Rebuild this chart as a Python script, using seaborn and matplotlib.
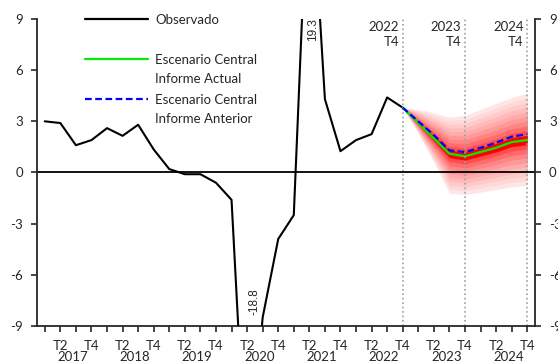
import numpy as np
import pandas as pd
import matplotlib
matplotlib.use("Agg")
import matplotlib.pyplot as plt
import seaborn as sns

years = [2017, 2018, 2019, 2020, 2021, 2022, 2023, 2024]
quarters = [f"{y} T{q}" for y in years for q in range(1, 5)]

observado = [3.0, 2.9, 1.6, 1.9, 2.6, 2.15, 2.8, 1.35,
             0.2, -0.1, -0.1, -0.6, -1.6, -18.8, -8.5, -3.9,
             -2.5, 19.3, 4.3, 1.25, 1.9, 2.25, 4.4, 3.8]

# proyecciones desde 2022 T4
actual   = [3.8, 2.9, 2.0, 1.1, 0.95, 1.2, 1.45, 1.78, 1.9]
anterior = [3.8, 3.0, 2.2, 1.3, 1.2, 1.45, 1.75, 2.1, 2.25]
fan_sup  = [3.8, 3.7, 3.5, 3.25, 3.35, 3.7, 4.05, 4.4, 4.65]
fan_inf  = [3.8, 2.3, 0.6, -1.2, -1.3, -1.15, -1.0, -0.85, -0.75]

marcas = ["2022 T4", "2023 T4", "2024 T4"]
etiquetas_extremas = {"2021 T2": "19.3", "2020 T2": "-18.8"}

df_obs = pd.DataFrame({"x": np.arange(len(observado)), "valor": observado})
x_proy = np.arange(len(observado) - 1, len(quarters))
df_proy = pd.DataFrame({"x": x_proy, "actual": actual, "anterior": anterior,
                        "sup": fan_sup, "inf": fan_inf})

sns.set_style("ticks")
plt.rcParams['font.family'] = ['Lato', 'DejaVu Sans']
plt.rcParams['font.size'] = 9.5
plt.rcParams['axes.unicode_minus'] = False

fig = plt.figure(figsize=(5.58, 3.64), dpi=100)
ax = fig.add_axes([0.0663, 0.1044, 0.8925, 0.8434])

# abanico: de la banda exterior (clara) a la interior (roja)
fracs = np.linspace(1.0, 0.1, 10)
for f in fracs:
    gb = 0.9 * ((f - 0.1) / 0.9) ** 0.5
    ax.fill_between(df_proy["x"],
                    df_proy["actual"] - f * (df_proy["actual"] - df_proy["inf"]),
                    df_proy["actual"] + f * (df_proy["sup"] - df_proy["actual"]),
                    color=(1.0, gb, gb), lw=0, zorder=1)

ax.axhline(0, color="black", lw=1.3, zorder=2)
for m in marcas:
    xi = quarters.index(m)
    ax.axvline(xi, color="#a0a0a0", ls=":", lw=1.2, zorder=1.5)
    yr, q = m.split()
    ax.annotate(f"{yr}\n{q}", xy=(xi, 9), xytext=(-2.5, -1.5), textcoords="offset points",
                ha="right", va="top", multialignment="right", fontsize=9.5, linespacing=1.25)

sns.lineplot(data=df_obs, x="x", y="valor", color="black", lw=1.5, ax=ax, zorder=3)
sns.lineplot(data=df_proy, x="x", y="actual", color="#00ee00", lw=1.6, ax=ax, zorder=4)
sns.lineplot(data=df_proy, x="x", y="anterior", color="#0000ff", lw=1.6, ls=(0, (3, 1.6)),
             ax=ax, zorder=5)

for q, txt in etiquetas_extremas.items():
    xi = quarters.index(q)
    if txt == "19.3":
        ax.text(xi + 0.25, 8.4, txt, rotation=90, ha="center", va="center",
                fontsize=8.5, family="Liberation Sans")
    else:
        ax.text(xi + 0.5, -7.6, txt, rotation=90, ha="center", va="center",
                fontsize=8.5, family="Liberation Sans")

ax.set_xlim(-0.5, len(quarters) - 0.5)
ax.set_ylim(-9, 9)
ax.set_yticks(np.arange(-9, 10, 3))
ax.set_xticks(np.arange(len(quarters)))
ax.set_xticklabels([q.split()[1] if q.endswith(("T2", "T4")) else "" for q in quarters])
ax.set_xlabel("")
ax.set_ylabel("")
ax.tick_params(axis="x", length=4, width=1.2, pad=6, labelsize=9.5)
ax.tick_params(axis="y", length=4, width=1.2, pad=6, labelsize=9.5, right=True, labelright=True)
for s in ["left", "right", "bottom"]:
    ax.spines[s].set_visible(True)
    ax.spines[s].set_linewidth(1.3)
ax.spines["top"].set_visible(False)

for k, yr in enumerate(years):
    ax.annotate(str(yr), xy=(4 * k + 1.8, 0), xycoords=("data", "axes fraction"),
                xytext=(0, -22.5), textcoords="offset points", ha="center", va="center",
                fontsize=9.5)

# leyenda manual
ley = [("black", "-", 1.000, ["Observado"]),
       ("#00ee00", "-", 0.870, ["Escenario Central", "Informe Actual"]),
       ("#0000ff", (0, (3, 1.6)), 0.739, ["Escenario Central", "Informe Anterior"])]
for c, ls, yy, lineas in ley:
    ax.plot([0.0964, 0.2229], [yy, yy], color=c, ls=ls, lw=1.6, transform=ax.transAxes,
            clip_on=False, zorder=6)
    for j, t in enumerate(lineas):
        ax.text(0.237, yy - 0.004 - j * 0.062, t, transform=ax.transAxes, va="center",
                ha="left", fontsize=9.5)

fig.savefig("out.png", dpi=100)
